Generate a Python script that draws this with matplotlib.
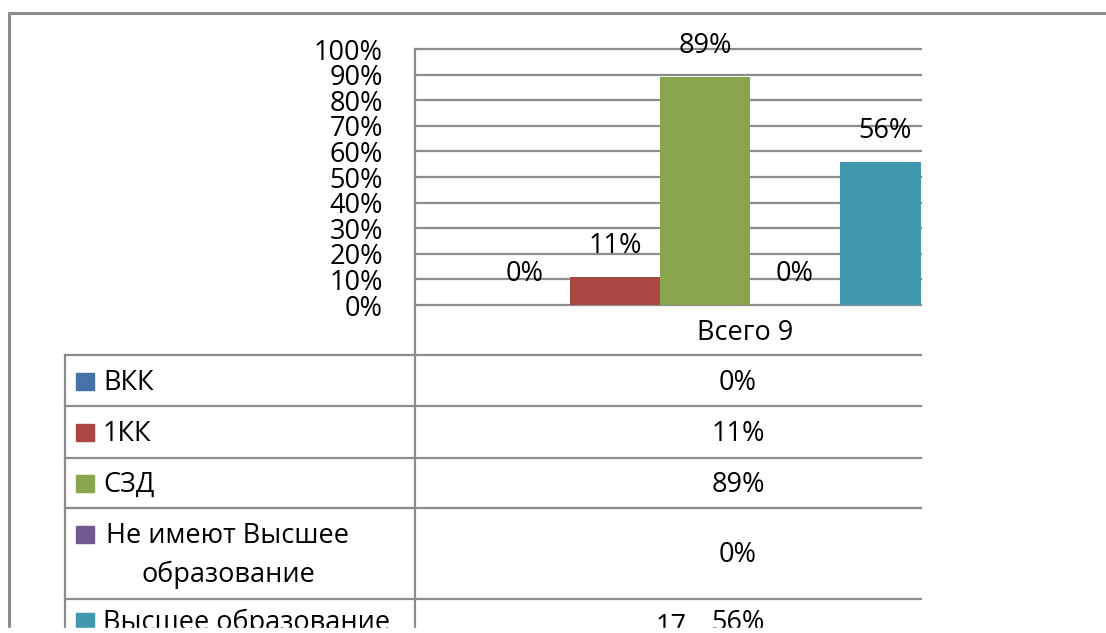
import numpy as np
import matplotlib.pyplot as plt
from matplotlib.patches import Rectangle

# data
series = ['ВКК', '1КК', 'СЗД', 'Не имеют Высшее\nобразование', 'Высшее образование']
values = [0, 11, 89, 0, 56]
colors = ['#4572A7', '#AA4643', '#89A54E', '#71588F', '#4198AF']
category = 'Всего 9'
yticks = list(range(0, 101, 10))
stray_note = '17'  # number that overlaps the last row in the source

plt.rcParams['font.family'] = ['Open Sans', 'DejaVu Sans']
fs = 19.5
gray = '#8c8c8c'

W, H = 1106, 633
fig = plt.figure(figsize=(W / 100, H / 100), dpi=100)


def box(l, t, r, b):
    return [l / W, 1 - b / H, (r - l) / W, (b - t) / H]


# background axes in pixel units for frame and data table
bg = fig.add_axes([0, 0, 1, 1])
bg.set_xlim(0, W)
bg.set_ylim(H, 0)
bg.axis('off')

###############################################################################
# bar chart
plot_l, plot_t, plot_r, plot_b = 415, 49, 921, 305
ax = fig.add_axes(box(plot_l, plot_t, plot_r, plot_b))
ax.patch.set_alpha(0)
n = len(values)
x = np.arange(n) - (n - 1) / 2
ax.bar(x, values, width=1, color=colors, zorder=2)
ax.set_xlim(-3.22, 2.4)
ax.set_ylim(0, 100)
ax.set_yticks(yticks)
ax.set_yticklabels([f'{v}%' for v in yticks], fontsize=fs)
ax.set_xticks([])
ax.tick_params(axis='y', length=0, pad=23)
ax.yaxis.grid(True, color=gray, lw=1.6)
for gl in ax.get_ygridlines():
    gl.set_clip_on(False)
ax.set_axisbelow(True)
for s in ax.spines.values():
    s.set_visible(False)

for xi, v in zip(x, values):
    ax.annotate(f'{v}%', (xi, v), xytext=(0, 17.3), textcoords='offset points',
                ha='center', va='baseline', fontsize=fs, annotation_clip=False)

###############################################################################
# outer frame
bg.plot([9, 9], [13, H], color=gray, lw=2.2)
bg.plot([9, W], [13, 13], color=gray, lw=2.2)

# data table
tab_l, div_x, tab_r = 65, 415, 921
val_x = 738
bg.plot([div_x, div_x], [plot_t, H], color=gray, lw=1.6)
bg.text(745, 340, category, ha='center', va='baseline', fontsize=fs)

row_heights = [51, 52, 50, 91, 44]
top = 355
bg.plot([tab_l, tab_l], [top, H], color=gray, lw=1.6)
for name, v, c, rh in zip(series, values, colors, row_heights):
    bg.plot([tab_l, tab_r], [top, top], color=gray, lw=1.6)
    lines = name.split('\n')
    mid = top + rh / 2 + 9
    first = mid - (len(lines) - 1) * 19.5
    bg.add_patch(Rectangle((76, first - 17), 18, 17, color=c))
    if len(lines) == 1:
        bg.text(103, first, name, ha='left', va='baseline', fontsize=fs)
    else:
        for i, ln in enumerate(lines):
            bg.text(228, first + i * 39, ln, ha='center', va='baseline', fontsize=fs)
    bg.text(val_x, mid, f'{v}%', ha='center', va='baseline', fontsize=fs)
    top += rh

# stray number sits a little lower than the last row's value
bg.text(671, mid + 4, stray_note, ha='center', va='baseline', fontsize=fs)

# the source picture is cut a few pixels above the bottom edge
bg.add_patch(Rectangle((0, 628), W, H - 628, color='white', zorder=10))

fig.savefig('out.png', dpi=100)
